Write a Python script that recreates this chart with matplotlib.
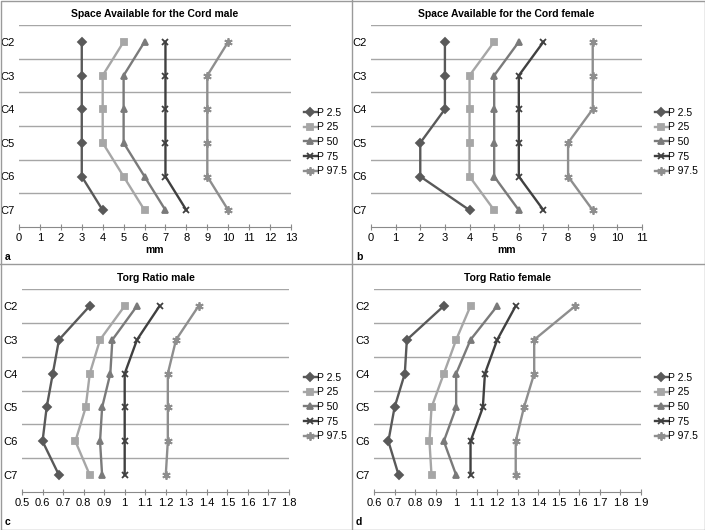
import matplotlib
matplotlib.use("Agg")
import matplotlib.pyplot as plt
from matplotlib.lines import Line2D

plt.rcParams['font.family'] = ['Liberation Sans', 'DejaVu Sans']

# data
levels = ['C2', 'C3', 'C4', 'C5', 'C6', 'C7']
series_names = ['P 2.5', 'P 25', 'P 50', 'P 75', 'P 97.5']

sac_male = [
    [3, 3, 3, 3, 3, 4],
    [5, 4, 4, 4, 5, 6],
    [6, 5, 5, 5, 6, 7],
    [7, 7, 7, 7, 7, 8],
    [10, 9, 9, 9, 9, 10],
]
sac_female = [
    [3, 3, 3, 2, 2, 4],
    [5, 4, 4, 4, 4, 5],
    [6, 5, 5, 5, 5, 6],
    [7, 6, 6, 6, 6, 7],
    [9, 9, 9, 8, 8, 9],
]
torg_male = [
    [0.83, 0.68, 0.65, 0.62, 0.60, 0.68],
    [1.00, 0.88, 0.83, 0.81, 0.76, 0.83],
    [1.06, 0.94, 0.93, 0.89, 0.88, 0.89],
    [1.17, 1.06, 1.00, 1.00, 1.00, 1.00],
    [1.36, 1.25, 1.21, 1.21, 1.21, 1.20],
]
torg_female = [
    [0.94, 0.76, 0.75, 0.70, 0.67, 0.72],
    [1.07, 1.00, 0.94, 0.88, 0.87, 0.88],
    [1.20, 1.07, 1.00, 1.00, 0.94, 1.00],
    [1.29, 1.20, 1.14, 1.13, 1.07, 1.07],
    [1.58, 1.38, 1.38, 1.33, 1.29, 1.29],
]

colors = ['#595959', '#a6a6a6', '#7a7a7a', '#404040', '#8e8e8e']
markers = ['D', 's', '^', 'x', (6, 2, 0)]
msizes = [4, 5, 5, 5, 6]

W, H = 705, 530
fig = plt.figure(figsize=(W / 100, H / 100), dpi=100)


def px_axes(left, right, top, bottom):
    return fig.add_axes([left / W, 1 - bottom / H, (right - left) / W, (bottom - top) / H])


def draw_panel(ax, data, title, xmin, xmax, xstep, xlabel, ticklabels, letter, letter_xy, leg_xy):
    for i, vals in enumerate(data):
        ax.plot(vals, range(len(levels)), color=colors[i], lw=1.7,
                marker=markers[i], markersize=msizes[i], mew=1.3,
                label=series_names[i], clip_on=False)
    ax.set_ylim(len(levels) - 0.5, -0.5)
    ax.set_xlim(xmin, xmax)
    for k in range(len(levels)):
        ax.axhline(k - 0.5, color='#a6a6a6', lw=1.0, zorder=0)
    ax.set_yticks(range(len(levels)))
    ax.set_yticklabels(levels)
    ticks = [xmin + j * xstep for j in range(len(ticklabels))]
    ax.set_xticks(ticks)
    ax.set_xticklabels(ticklabels)
    for s in ['top', 'right', 'left']:
        ax.spines[s].set_visible(False)
    ax.spines['bottom'].set_color('#8a8a8a')
    ax.tick_params(axis='y', length=0, pad=3, labelsize=8)
    ax.tick_params(axis='x', direction='inout', length=5, color='#8a8a8a', labelsize=8, pad=2)
    ax.set_title(title, fontsize=7.5, fontweight='bold', pad=6)
    if xlabel:
        ax.set_xlabel(xlabel, fontsize=7.5, fontweight='bold', labelpad=1)
    fig.text(letter_xy[0] / W, 1 - letter_xy[1] / H, letter, fontsize=7.5,
             fontweight='bold', va='center', ha='left')
    handles = [Line2D([0], [0], color=colors[i], lw=1.7, marker=markers[i],
                      markersize=msizes[i], mew=1.3) for i in range(len(series_names))]
    fig.legend(handles, series_names, loc='center left',
               bbox_to_anchor=(leg_xy[0] / W, 1 - leg_xy[1] / H),
               frameon=False, fontsize=7.5, handlelength=1.2, handletextpad=0.05,
               labelspacing=0.45, borderaxespad=0, borderpad=0)


ax_a = px_axes(19, 291, 25, 227)
draw_panel(ax_a, sac_male, 'Space Available for the Cord male', 0, 13, 1, 'mm',
           [str(v) for v in range(14)], 'a', (5, 257), (304, 142))

ax_b = px_axes(371, 642, 25, 227)
draw_panel(ax_b, sac_female, 'Space Available for the Cord female', 0, 11, 1, 'mm',
           [str(v) for v in range(12)], 'b', (356, 257), (655, 142))

torg_m_labels = ['0.5', '0.6', '0.7', '0.8', '0.9', '1', '1.1', '1.2', '1.3',
                 '1.4', '1.5', '1.6', '1.7', '1.8']
torg_f_labels = ['0.6', '0.7', '0.8', '0.9', '1', '1.1', '1.2', '1.3', '1.4',
                 '1.5', '1.6', '1.7', '1.8', '1.9']

ax_c = px_axes(22, 289, 289, 492)
draw_panel(ax_c, torg_male, 'Torg Ratio male', 0.5, 1.8, 0.1, None,
           torg_m_labels, 'c', (5, 522), (304, 407))

ax_d = px_axes(374, 641, 289, 492)
draw_panel(ax_d, torg_female, 'Torg Ratio female', 0.6, 1.9, 0.1, None,
           torg_f_labels, 'd', (356, 522), (655, 407))

# panel frames
frame = dict(color='#9a9a9a', lw=1.0)
fig.add_artist(Line2D([352 / W, 352 / W], [0, 1], **frame))
fig.add_artist(Line2D([0, 1], [1 - 264 / H, 1 - 264 / H], **frame))
fig.add_artist(Line2D([0.5 / W, 0.5 / W, 1 - 0.5 / W, 1 - 0.5 / W, 0.5 / W],
                      [0.5 / H, 1 - 0.5 / H, 1 - 0.5 / H, 0.5 / H, 0.5 / H], **frame))

fig.savefig('out.png', dpi=100)
